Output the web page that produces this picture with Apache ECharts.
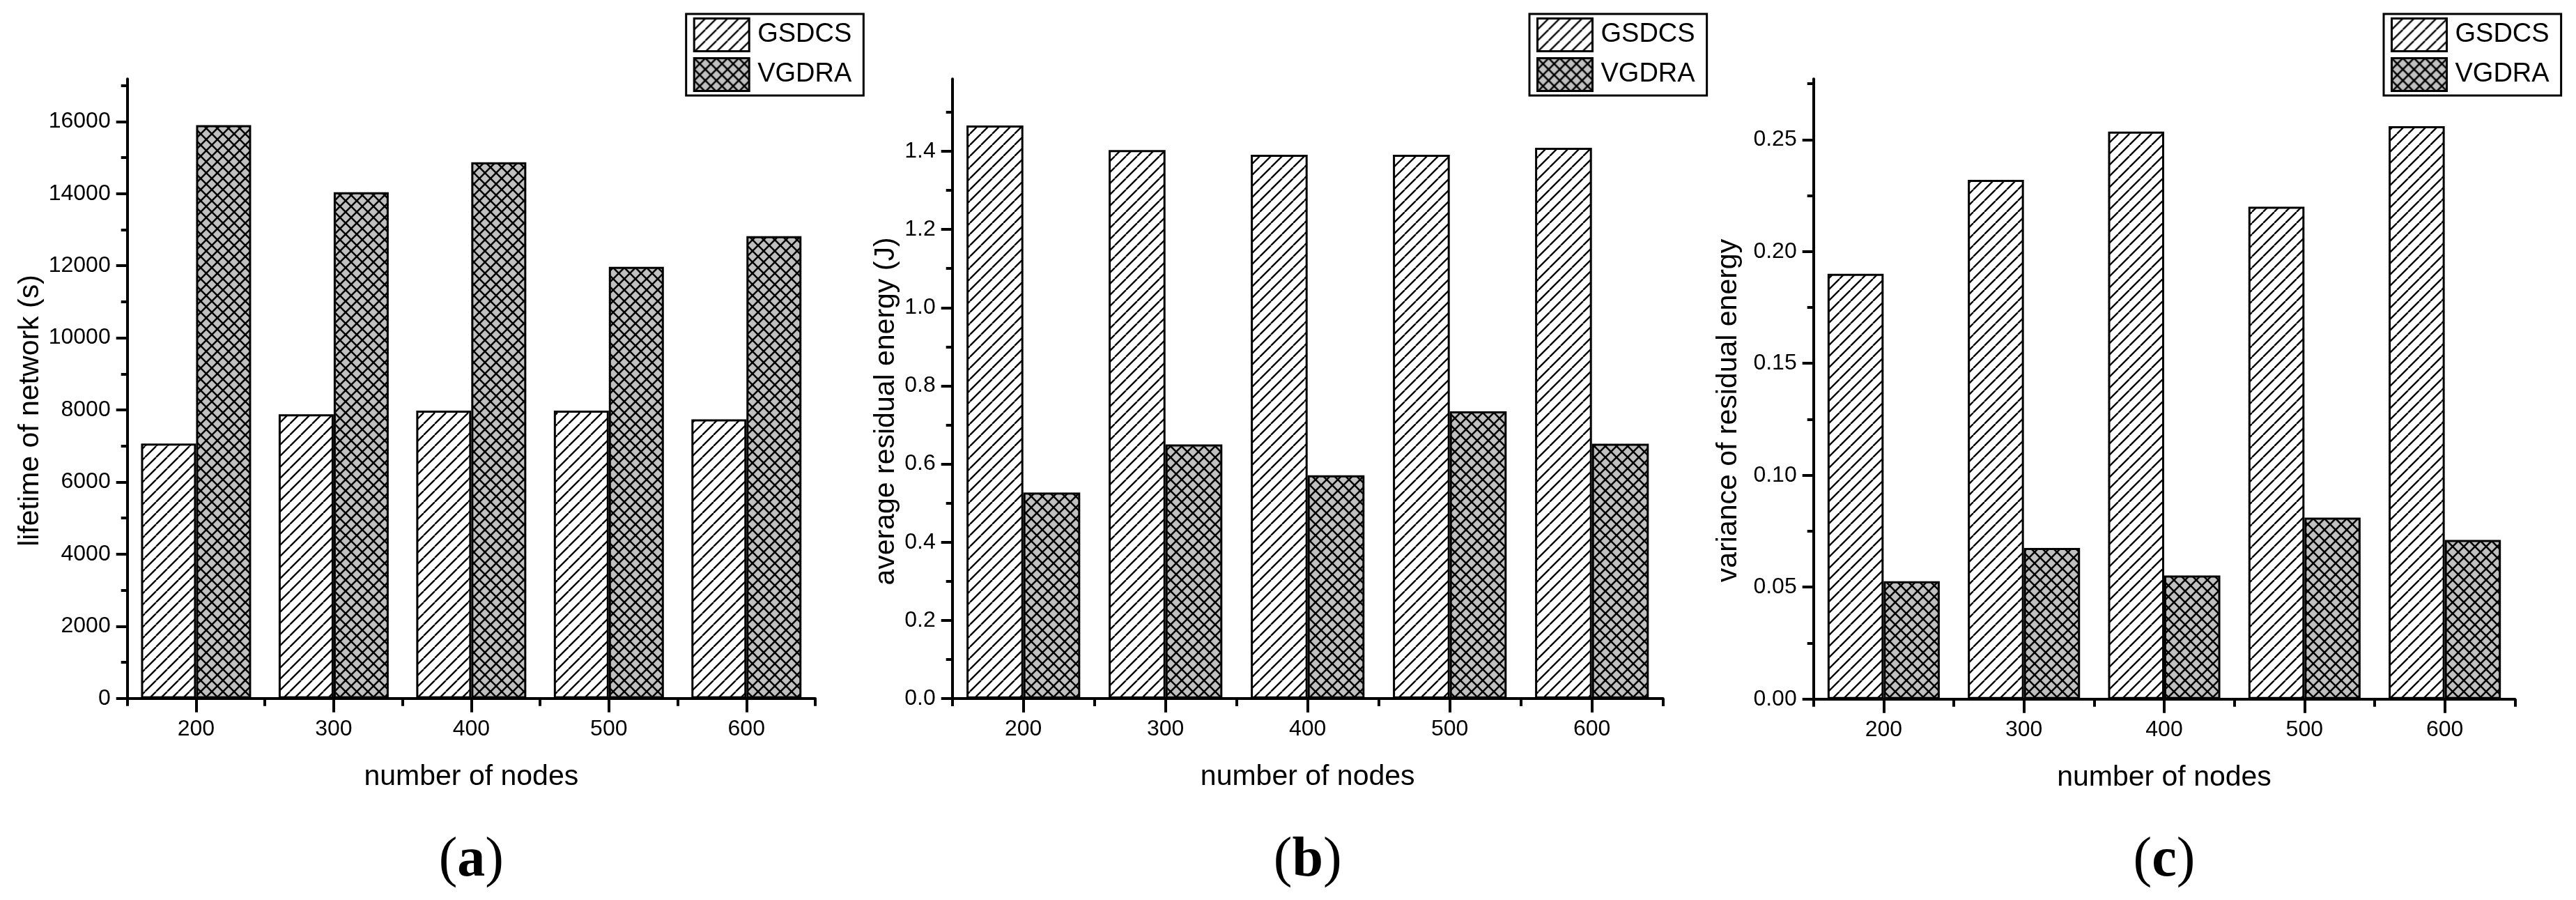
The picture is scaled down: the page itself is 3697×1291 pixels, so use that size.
<!DOCTYPE html>
<html>
<head>
<meta charset="utf-8">
<script src="https://cdn.jsdelivr.net/npm/echarts@6/dist/echarts.min.js"></script>
<style>
  html, body { margin: 0; padding: 0; background: #fff; }
  #chart { width: 3697px; height: 1291px; }
</style>
</head>
<body>
<div id="chart"></div>
<script>
// ---------- data ----------
const categories = ['200', '300', '400', '500', '600'];
const seriesNames = ['GSDCS', 'VGDRA'];

const lifetimeGSDCS = [7070, 7880, 7980, 7980, 7740];
const lifetimeVGDRA = [15900, 14040, 14870, 11970, 12820];

const energyGSDCS = [1.466, 1.403, 1.391, 1.391, 1.409];
const energyVGDRA = [0.527, 0.650, 0.571, 0.735, 0.652];

const varianceGSDCS = [0.190, 0.232, 0.2536, 0.220, 0.256];
const varianceVGDRA = [0.0526, 0.0675, 0.0552, 0.0811, 0.0711];

const ticksMajorA = [0, 2000, 4000, 6000, 8000, 10000, 12000, 14000, 16000];
const ticksMinorA = [1000, 3000, 5000, 7000, 9000, 11000, 13000, 15000, 17000];
const ticksMajorB = [0, 0.2, 0.4, 0.6, 0.8, 1.0, 1.2, 1.4];
const ticksMinorB = [0.1, 0.3, 0.5, 0.7, 0.9, 1.1, 1.3, 1.5];
const ticksMajorC = [0, 0.05, 0.10, 0.15, 0.20, 0.25];
const ticksMinorC = [0.025, 0.075, 0.125, 0.175, 0.225, 0.275];

const yTitles = ['lifetime of network (s)', 'average residual energy (J)', 'variance of residual energy'];
const xTitle = 'number of nodes';
const panelLetters = ['a', 'b', 'c'];

// ---------- layout / style ----------
const SANS = "'Liberation Sans', Arial, Helvetica, sans-serif";
const SERIF = "'Liberation Serif', 'Times New Roman', serif";

const grids = [
  { left: 182.7, top: 113.3, width: 987.3, height: 888.5 },
  { left: 1366.7, top: 113.3, width: 1020, height: 888.7 },
  { left: 2602.7, top: 113.3, width: 1006.6, height: 889.4 }
];
const yMax = [17180, 1.585, 0.2771];
const yMajor = [ticksMajorA, ticksMajorB, ticksMajorC];
const yMinor = [ticksMinorA, ticksMinorB, ticksMinorC];
const yInterval = [2000, 0.2, 0.05];
const yFmt = [
  v => String(Math.round(v)),
  v => v.toFixed(1),
  v => v.toFixed(2)
];
const panelData = [
  [lifetimeGSDCS, lifetimeVGDRA],
  [energyGSDCS, energyVGDRA],
  [varianceGSDCS, varianceVGDRA]
];
const legendLeft = [984.7, 2195, 3421];
const yTitlePos = [[43.5, 589], [1271.6, 590], [2481, 589]];

function makePattern(bg, cross, lw) {
  const P = 16;
  const c = document.createElement('canvas');
  c.width = P; c.height = P;
  const ctx = c.getContext('2d');
  ctx.fillStyle = bg;
  ctx.fillRect(0, 0, P, P);
  ctx.strokeStyle = '#000';
  ctx.lineWidth = lw;
  ctx.beginPath();
  for (let k = -1; k <= 1; k++) {
    ctx.moveTo(k * P, P);
    ctx.lineTo(k * P + P, 0);
    if (cross) {
      ctx.moveTo(k * P, 0);
      ctx.lineTo(k * P + P, P);
    }
  }
  ctx.stroke();
  return c;
}
const fills = [
  { image: makePattern('#ffffff', false, 2.3), repeat: 'repeat' },
  { image: makePattern('#c0c0c0', true, 2.6), repeat: 'repeat' }
];

const xAxes = [], yAxes = [], series = [], legends = [], graphics = [];
const axisLineStyle = { color: '#000', width: 4 };

grids.forEach((g, i) => {
  xAxes.push({
    gridIndex: i, type: 'category', data: categories, boundaryGap: true,
    axisLine: { show: true, lineStyle: axisLineStyle },
    axisTick: { show: true, alignWithLabel: true, length: 20, lineStyle: { color: '#000', width: 4 } },
    axisLabel: { show: true, margin: 28, fontSize: 32, color: '#000', fontFamily: SANS },
    splitLine: { show: false },
    name: xTitle, nameLocation: 'middle', nameGap: 92,
    nameTextStyle: { fontSize: 41, color: '#000', fontFamily: SANS }
  });
  xAxes.push({
    gridIndex: i, type: 'category', data: categories, boundaryGap: true, position: 'bottom',
    axisLine: { show: false },
    axisTick: { show: true, alignWithLabel: false, length: 11, lineStyle: { color: '#000', width: 4 } },
    axisLabel: { show: false },
    splitLine: { show: false }
  });
  yAxes.push({
    gridIndex: i, type: 'value', min: 0, max: yMax[i], interval: yInterval[i],
    axisLine: { show: true, lineStyle: axisLineStyle },
    axisTick: { show: true, length: 16, lineStyle: { color: '#000', width: 4 }, customValues: yMajor[i] },
    axisLabel: { show: true, margin: 24, fontSize: 32, color: '#000', fontFamily: SANS,
                 customValues: yMajor[i], formatter: yFmt[i] },
    splitLine: { show: false }
  });
  yAxes.push({
    gridIndex: i, type: 'value', min: 0, max: yMax[i], position: 'left',
    axisLine: { show: false },
    axisTick: { show: true, length: 9, lineStyle: { color: '#000', width: 4 }, customValues: yMinor[i] },
    axisLabel: { show: false },
    splitLine: { show: false }
  });
  seriesNames.forEach((nm, s) => {
    series.push({
      type: 'bar', name: nm, xAxisIndex: 2 * i, yAxisIndex: 2 * i,
      data: panelData[i][s],
      barGap: '0%', barCategoryGap: '20%',
      itemStyle: { color: fills[s], borderColor: '#000', borderWidth: 3 },
      emphasis: { disabled: true }
    });
  });
  legends.push({
    left: legendLeft[i], top: 20, orient: 'vertical',
    data: seriesNames, icon: 'rect',
    itemWidth: 79, itemHeight: 47, itemGap: 7,
    borderColor: '#000', borderWidth: 3, padding: [5, 17, 5, 10],
    backgroundColor: '#fff',
    selectedMode: false,
    itemStyle: { borderColor: '#000', borderWidth: 3 },
    textStyle: { fontSize: 38, color: '#000', fontFamily: SANS, padding: [0, 0, 0, 7] }
  });
  graphics.push({
    type: 'text', x: yTitlePos[i][0], y: yTitlePos[i][1], rotation: Math.PI / 2,
    style: { text: yTitles[i], fontSize: 41, fontFamily: SANS, fill: '#000',
             align: 'center', verticalAlign: 'middle', textAlign: 'center', textVerticalAlign: 'middle' }
  });
  graphics.push({
    type: 'text', x: g.left + g.width / 2, y: 1235,
    style: { text: '(' + '{b|' + panelLetters[i] + '})', fontSize: 80, fontFamily: SERIF, fill: '#000',
             align: 'center', verticalAlign: 'middle', textAlign: 'center', textVerticalAlign: 'middle',
             rich: { b: { fontSize: 80, fontFamily: SERIF, fontWeight: 'bold', fill: '#000' } } }
  });
});

const chart = echarts.init(document.getElementById('chart'), null, { renderer: 'canvas' });
chart.setOption({
  animation: false,
  backgroundColor: '#fff',
  grid: grids.map(g => Object.assign({ containLabel: false }, g)),
  xAxis: xAxes,
  yAxis: yAxes,
  legend: legends,
  series: series,
  graphic: graphics
});
</script>
</body>
</html>
